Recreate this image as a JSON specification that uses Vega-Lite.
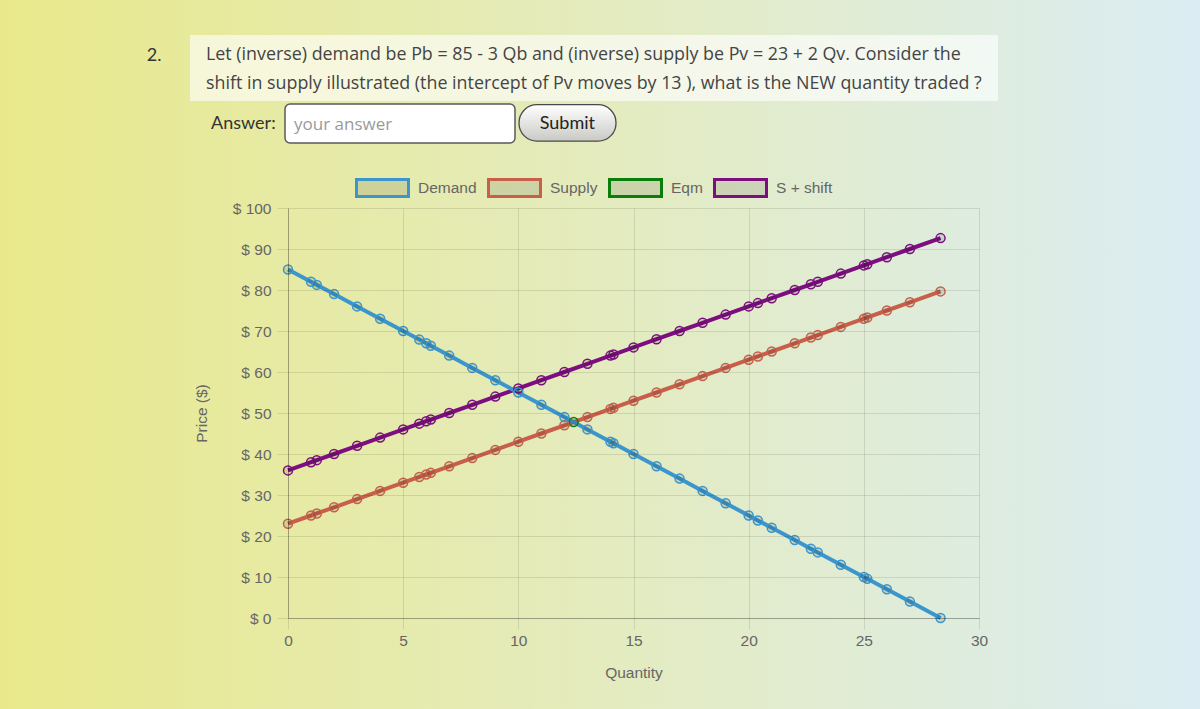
{
  "$schema": "https://vega.github.io/schema/vega-lite/v6.json",
  "width": 691,
  "height": 410,
  "autosize": {"type": "none"},
  "padding": {"left": 288, "top": 208, "right": 221, "bottom": 91},
  "background": "#e4ebbe",
  "config": {
    "view": {"stroke": null, "fill": {"gradient": "linear", "x1": -0.41679, "y1": 0, "x2": 1.31983, "y2": 0, "stops": [{"offset": 0, "color": "#e9e98b"}, {"offset": 0.5, "color": "#e4ebbe"}, {"offset": 1, "color": "#dbedf3"}]}},
    "axis": {
      "labelFont": "Liberation Sans",
      "labelFontSize": 15.5,
      "labelColor": "#666666",
      "labelFlush": false,
      "titleFont": "Liberation Sans",
      "titleFontSize": 15.5,
      "titleFontWeight": "normal",
      "titleColor": "#666666",
      "gridColor": "#000000",
      "gridOpacity": 0.1,
      "tickColor": "#000000",
      "tickOpacity": 0.1,
      "domainColor": "#000000",
      "domainOpacity": 0.25,
      "tickSize": 11
    },
    "legend": {
      "labelFont": "Liberation Sans",
      "labelFontSize": 15.5,
      "labelColor": "#666666"
    }
  },
  "data": {
    "values": [
      {"series": "S + shift", "q": 0, "p": 36}, {"series": "S + shift", "q": 1, "p": 38}, {"series": "S + shift", "q": 1.25, "p": 38.5}, {"series": "S + shift", "q": 2, "p": 40}, {"series": "S + shift", "q": 3, "p": 42}, {"series": "S + shift", "q": 4, "p": 44}, {"series": "S + shift", "q": 5, "p": 46}, {"series": "S + shift", "q": 5.7, "p": 47.4}, {"series": "S + shift", "q": 6, "p": 48}, {"series": "S + shift", "q": 6.2, "p": 48.4}, {"series": "S + shift", "q": 7, "p": 50}, {"series": "S + shift", "q": 8, "p": 52}, {"series": "S + shift", "q": 9, "p": 54}, {"series": "S + shift", "q": 10, "p": 56}, {"series": "S + shift", "q": 11, "p": 58}, {"series": "S + shift", "q": 12, "p": 60}, {"series": "S + shift", "q": 13, "p": 62}, {"series": "S + shift", "q": 14, "p": 64}, {"series": "S + shift", "q": 14.13, "p": 64.26}, {"series": "S + shift", "q": 15, "p": 66}, {"series": "S + shift", "q": 16, "p": 68}, {"series": "S + shift", "q": 17, "p": 70}, {"series": "S + shift", "q": 18, "p": 72}, {"series": "S + shift", "q": 19, "p": 74}, {"series": "S + shift", "q": 20, "p": 76}, {"series": "S + shift", "q": 20.4, "p": 76.8}, {"series": "S + shift", "q": 21, "p": 78}, {"series": "S + shift", "q": 22, "p": 80}, {"series": "S + shift", "q": 22.7, "p": 81.4}, {"series": "S + shift", "q": 23, "p": 82}, {"series": "S + shift", "q": 24, "p": 84}, {"series": "S + shift", "q": 25, "p": 86}, {"series": "S + shift", "q": 25.15, "p": 86.3}, {"series": "S + shift", "q": 26, "p": 88}, {"series": "S + shift", "q": 27, "p": 90}, {"series": "S + shift", "q": 28.33, "p": 92.66},
      {"series": "Eqm", "q": 12.4, "p": 47.8},
      {"series": "Supply", "q": 0, "p": 23}, {"series": "Supply", "q": 1, "p": 25}, {"series": "Supply", "q": 1.25, "p": 25.5}, {"series": "Supply", "q": 2, "p": 27}, {"series": "Supply", "q": 3, "p": 29}, {"series": "Supply", "q": 4, "p": 31}, {"series": "Supply", "q": 5, "p": 33}, {"series": "Supply", "q": 5.7, "p": 34.4}, {"series": "Supply", "q": 6, "p": 35}, {"series": "Supply", "q": 6.2, "p": 35.4}, {"series": "Supply", "q": 7, "p": 37}, {"series": "Supply", "q": 8, "p": 39}, {"series": "Supply", "q": 9, "p": 41}, {"series": "Supply", "q": 10, "p": 43}, {"series": "Supply", "q": 11, "p": 45}, {"series": "Supply", "q": 12, "p": 47}, {"series": "Supply", "q": 13, "p": 49}, {"series": "Supply", "q": 14, "p": 51}, {"series": "Supply", "q": 14.13, "p": 51.26}, {"series": "Supply", "q": 15, "p": 53}, {"series": "Supply", "q": 16, "p": 55}, {"series": "Supply", "q": 17, "p": 57}, {"series": "Supply", "q": 18, "p": 59}, {"series": "Supply", "q": 19, "p": 61}, {"series": "Supply", "q": 20, "p": 63}, {"series": "Supply", "q": 20.4, "p": 63.8}, {"series": "Supply", "q": 21, "p": 65}, {"series": "Supply", "q": 22, "p": 67}, {"series": "Supply", "q": 22.7, "p": 68.4}, {"series": "Supply", "q": 23, "p": 69}, {"series": "Supply", "q": 24, "p": 71}, {"series": "Supply", "q": 25, "p": 73}, {"series": "Supply", "q": 25.15, "p": 73.3}, {"series": "Supply", "q": 26, "p": 75}, {"series": "Supply", "q": 27, "p": 77}, {"series": "Supply", "q": 28.33, "p": 79.66},
      {"series": "Demand", "q": 0, "p": 85}, {"series": "Demand", "q": 1, "p": 82}, {"series": "Demand", "q": 1.25, "p": 81.25}, {"series": "Demand", "q": 2, "p": 79}, {"series": "Demand", "q": 3, "p": 76}, {"series": "Demand", "q": 4, "p": 73}, {"series": "Demand", "q": 5, "p": 70}, {"series": "Demand", "q": 5.7, "p": 67.9}, {"series": "Demand", "q": 6, "p": 67}, {"series": "Demand", "q": 6.2, "p": 66.4}, {"series": "Demand", "q": 7, "p": 64}, {"series": "Demand", "q": 8, "p": 61}, {"series": "Demand", "q": 9, "p": 58}, {"series": "Demand", "q": 10, "p": 55}, {"series": "Demand", "q": 11, "p": 52}, {"series": "Demand", "q": 12, "p": 49}, {"series": "Demand", "q": 13, "p": 46}, {"series": "Demand", "q": 14, "p": 43}, {"series": "Demand", "q": 14.13, "p": 42.61}, {"series": "Demand", "q": 15, "p": 40}, {"series": "Demand", "q": 16, "p": 37}, {"series": "Demand", "q": 17, "p": 34}, {"series": "Demand", "q": 18, "p": 31}, {"series": "Demand", "q": 19, "p": 28}, {"series": "Demand", "q": 20, "p": 25}, {"series": "Demand", "q": 20.4, "p": 23.8}, {"series": "Demand", "q": 21, "p": 22}, {"series": "Demand", "q": 22, "p": 19}, {"series": "Demand", "q": 22.7, "p": 16.9}, {"series": "Demand", "q": 23, "p": 16}, {"series": "Demand", "q": 24, "p": 13}, {"series": "Demand", "q": 25, "p": 10}, {"series": "Demand", "q": 25.15, "p": 9.55}, {"series": "Demand", "q": 26, "p": 7}, {"series": "Demand", "q": 27, "p": 4}, {"series": "Demand", "q": 28.33, "p": 0}
    ]
  },
  "layer": [
    {
      "data": {"values": [{}]},
      "mark": {"type": "rect", "clip": false, "color": {"gradient": "linear", "x1": 0, "y1": 0, "x2": 1, "y2": 0, "stops": [{"offset": 0, "color": "#e9e98b"}, {"offset": 0.5, "color": "#e4ebbe"}, {"offset": 1, "color": "#dbedf3"}]}},
      "encoding": {"x": {"datum": -12.504}, "x2": {"datum": 39.595}, "y": {"datum": 151}, "y2": {"datum": 100}}
    },
    {
      "data": {"values": [{}]},
      "mark": {"type": "rect", "clip": false, "color": {"gradient": "linear", "x1": 0, "y1": 0, "x2": 1, "y2": 0, "stops": [{"offset": 0, "color": "#e9e98b"}, {"offset": 0.5, "color": "#e4ebbe"}, {"offset": 1, "color": "#dbedf3"}]}},
      "encoding": {"x": {"datum": -12.504}, "x2": {"datum": 39.595}, "y": {"datum": 0}, "y2": {"datum": -22.5}}
    },
    {
      "data": {"values": [{}]},
      "mark": {"type": "rect", "clip": false, "color": {"gradient": "linear", "x1": 0, "y1": 0, "x2": 4.16667, "y2": 0, "stops": [{"offset": 0, "color": "#e9e98b"}, {"offset": 0.5, "color": "#e4ebbe"}, {"offset": 1, "color": "#dbedf3"}]}},
      "encoding": {"x": {"datum": -12.504}, "x2": {"datum": 0}, "y": {"datum": 100}, "y2": {"datum": 0}}
    },
    {
      "data": {"values": [{}]},
      "mark": {"type": "rect", "clip": false, "color": {"gradient": "linear", "x1": -4.42986, "y1": 0, "x2": 1, "y2": 0, "stops": [{"offset": 0, "color": "#e9e98b"}, {"offset": 0.5, "color": "#e4ebbe"}, {"offset": 1, "color": "#dbedf3"}]}},
      "encoding": {"x": {"datum": 30}, "x2": {"datum": 39.595}, "y": {"datum": 100}, "y2": {"datum": 0}}
    },
    {
      "data": {"values": [{}]},
      "mark": {"type": "rect", "clip": false, "color": "#ffffff", "opacity": 0.62},
      "encoding": {"x": {"datum": -4.255}, "x2": {"datum": 30.826}, "y": {"datum": 142.2}, "y2": {"datum": 126.1}}
    },
    {
      "data": {"values": [{}]},
      "mark": {"type": "rect", "clip": false, "fill": "#ffffff", "stroke": "#5a5a5a", "strokeWidth": 1.5, "cornerRadius": 5},
      "encoding": {"x": {"datum": -0.13}, "x2": {"datum": 9.855}, "y": {"datum": 125.37}, "y2": {"datum": 115.85}}
    },
    {
      "data": {"values": [{}]},
      "mark": {"type": "rect", "clip": false, "stroke": "#4a4a4a", "strokeWidth": 1.3, "cornerRadius": 18, "fill": {"gradient": "linear", "x1": 0, "y1": 0, "x2": 0, "y2": 1, "stops": [{"offset": 0, "color": "#ffffff"}, {"offset": 1, "color": "#c9c9c4"}]}},
      "encoding": {"x": {"datum": 10.03}, "x2": {"datum": 14.24}, "y": {"datum": 125.2}, "y2": {"datum": 116.3}}
    },
    {
      "data": {"values": [{}]},
      "mark": {"type": "text", "clip": false, "text": "2.", "align": "left", "baseline": "middle", "font": "Lato", "fontSize": 18, "color": "#333333"},
      "encoding": {"x": {"datum": -6.13}, "y": {"datum": 137.1}}
    },
    {
      "data": {"values": [{}]},
      "mark": {"type": "text", "clip": false, "text": ["Let (inverse) demand be Pb = 85 - 3 Qb and (inverse) supply be Pv = 23 + 2 Qv. Consider the", "shift in supply illustrated (the intercept of Pv moves by 13 ), what is the NEW quantity traded ?"], "lineHeight": 29, "align": "left", "baseline": "middle", "font": "Open Sans", "fontSize": 17.85, "color": "#444444"},
      "encoding": {"x": {"datum": -3.56}, "y": {"datum": 137.2}}
    },
    {
      "data": {"values": [{}]},
      "mark": {"type": "text", "clip": false, "text": "Answer:", "align": "left", "baseline": "middle", "font": "Lato", "fontSize": 18, "color": "#333333"},
      "encoding": {"x": {"datum": -3.34}, "y": {"datum": 120.4}}
    },
    {
      "data": {"values": [{}]},
      "mark": {"type": "text", "clip": false, "text": "your answer", "align": "left", "baseline": "middle", "font": "Open Sans", "fontSize": 17, "color": "#9a9a9a"},
      "encoding": {"x": {"datum": 0.26}, "y": {"datum": 120.2}}
    },
    {
      "data": {"values": [{}]},
      "mark": {"type": "text", "clip": false, "text": "Submit", "align": "center", "baseline": "middle", "font": "Lato", "fontSize": 18, "color": "#222222"},
      "encoding": {"x": {"datum": 12.13}, "y": {"datum": 120.5}}
    },
    {
      "mark": {"type": "line", "strokeWidth": 4, "clip": false},
      "encoding": {
        "x": {"field": "q", "type": "quantitative", "scale": {"domain": [0, 30], "nice": false, "zero": false}, "axis": {"title": "Quantity", "grid": true, "zindex": 1, "values": [0, 5, 10, 15, 20, 25, 30], "labelPadding": 4, "titlePadding": 17}},
        "y": {"field": "p", "type": "quantitative", "scale": {"domain": [0, 100], "nice": false}, "axis": {"title": "Price ($)", "grid": true, "zindex": 1, "values": [0, 10, 20, 30, 40, 50, 60, 70, 80, 90, 100], "labelExpr": "'$ ' + datum.value", "labelPadding": 6, "titlePadding": 23}},
        "color": {"field": "series", "type": "nominal", "sort": null,
          "scale": {"domain": ["Demand", "Supply", "Eqm", "S + shift"], "range": ["#3a96cd", "#c85f4a", "#0b7d0b", "#7d0e80"]},
          "legend": {"title": null, "orient": "none", "legendX": 67, "legendY": -48, "direction": "horizontal", "symbolType": "M-1,-0.327H1V0.327H-1Z", "symbolSize": 2704, "symbolStrokeWidth": 3, "symbolFillColor": "rgba(0,0,0,0.1)", "symbolOpacity": 1, "labelOffset": 8, "columnPadding": 5}
        }
      }
    },
    {
      "mark": {"type": "point", "filled": false, "fill": "rgba(0,0,0,0.1)", "size": 81, "strokeWidth": 1.5, "opacity": 1, "clip": false},
      "encoding": {
        "x": {"field": "q", "type": "quantitative"},
        "y": {"field": "p", "type": "quantitative"},
        "color": {"field": "series", "type": "nominal", "sort": null}
      }
    }
  ]
}
